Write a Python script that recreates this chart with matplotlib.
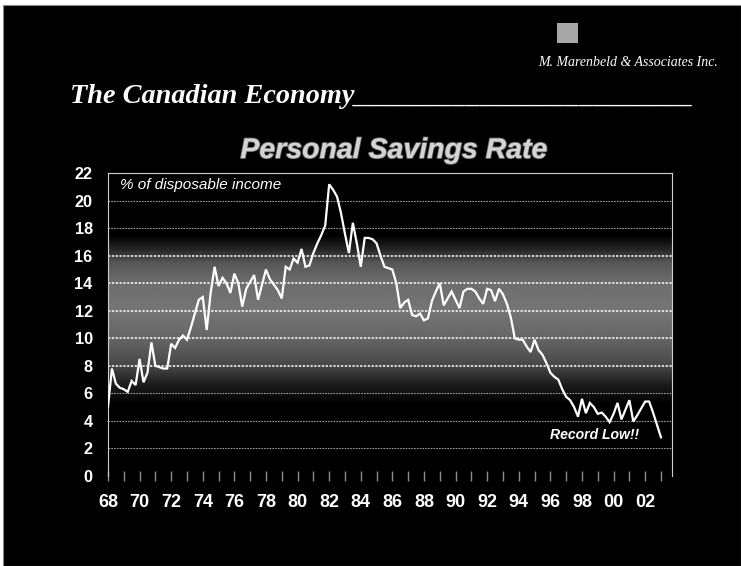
import numpy as np
import matplotlib
matplotlib.use("Agg")
import matplotlib.pyplot as plt
from matplotlib.patches import Rectangle
from matplotlib.ticker import MultipleLocator
import matplotlib.patheffects as pe

# quarterly personal savings rate, % of disposable income, 1968Q1 - 2003Q1
savings_rate = [
    5.0, 7.8, 6.7, 6.4, 6.3, 6.1, 6.9, 6.6,        # 68-69
    8.5, 6.8, 7.5, 9.7, 8.0, 7.9, 7.8, 7.8,        # 70-71
    9.6, 9.3, 9.9, 10.2, 9.9, 10.8, 11.8, 12.8,    # 72-73
    13.0, 10.6, 13.3, 15.2, 13.8, 14.4, 14.0, 13.3,  # 74-75
    14.7, 14.0, 12.3, 13.6, 14.1, 14.6, 12.8, 13.9,  # 76-77
    15.0, 14.3, 13.9, 13.5, 12.9, 15.2, 15.0, 15.8,  # 78-79
    15.5, 16.5, 15.2, 15.3, 16.2, 16.9, 17.5, 18.2,  # 80-81
    21.2, 20.8, 20.3, 19.1, 17.6, 16.2, 18.4, 16.9,  # 82-83
    15.2, 17.3, 17.3, 17.2, 16.9, 16.0, 15.2, 15.1,  # 84-85
    15.0, 14.0, 12.2, 12.6, 12.8, 11.7, 11.6, 11.8,  # 86-87
    11.3, 11.45, 12.7, 13.4, 14.0, 12.4, 12.9, 13.4,  # 88-89
    12.8, 12.2, 13.4, 13.6, 13.6, 13.4, 12.9, 12.5,  # 90-91
    13.6, 13.5, 12.7, 13.6, 13.2, 12.5, 11.5, 10.0,  # 92-93
    9.9, 9.9, 9.4, 9.0, 9.9, 9.15, 8.8, 8.2,        # 94-95
    7.5, 7.2, 7.0, 6.3, 5.75, 5.5, 5.0, 4.3,        # 96-97
    5.6, 4.55, 5.3, 5.0, 4.5, 4.6, 4.3, 3.9,        # 98-99
    4.5, 5.3, 4.1, 4.8, 5.5, 3.95, 4.4, 4.9,        # 00-01
    5.4, 5.4, 4.6, 3.7,                             # 02
    2.8,                                            # 03Q1
]
start_year = 1968
label_years = list(range(1968, 2003, 2))
year_labels = ["68", "70", "72", "74", "76", "78", "80", "82", "84",
               "86", "88", "90", "92", "94", "96", "98", "00", "02"]
y_ticks = [0, 2, 4, 6, 8, 10, 12, 14, 16, 18, 20, 22]

quarters = start_year + np.arange(len(savings_rate)) / 4.0

fig = plt.figure(figsize=(7.41, 5.66), dpi=100, facecolor="white")
fig.patches.append(Rectangle((0.004, 0.0), 0.996, 0.991, transform=fig.transFigure,
                             facecolor="black", edgecolor="#888888", lw=0.8, zorder=-10))

ax = fig.add_axes([0.1457, 0.1594, 0.7612, 0.5344])
ax.set_facecolor("black")
x0, x1 = 1968, 2003.7
ax.set_xlim(x0, x1)
ax.set_ylim(0, 22)

# grey shaded band behind the middle of the chart
levels = np.linspace(0, 22, 400)
shade = np.interp(levels, [0, 5.2, 6.5, 8, 10, 12, 14, 15.5, 16.4, 17.5, 22],
                  [0, 0, 0.1, 0.28, 0.4, 0.46, 0.43, 0.34, 0.16, 0.0, 0])
ax.imshow(shade[:, None], extent=[x0, x1, 0, 22], origin="lower", aspect="auto",
          cmap="gray", vmin=0, vmax=1, zorder=0, interpolation="bilinear")

for yv in y_ticks[1:]:
    bright = 8 <= yv <= 16
    ax.axhline(yv, color="white" if bright else "#9a9a9a",
               lw=1.1 if bright else 0.8, ls=(0, (1.5, 1)), zorder=1)

ax.plot(quarters, savings_rate, color="white", lw=1.6, zorder=3,
        solid_joinstyle="miter")

for side in ["left", "top", "right"]:
    ax.spines[side].set_color("#cfcfcf")
    ax.spines[side].set_linestyle((0, (1.5, 1)))
    ax.spines[side].set_linewidth(0.8)
ax.spines["bottom"].set_visible(False)

ax.set_yticks(y_ticks)
ax.set_yticklabels([str(v) for v in y_ticks])
ax.tick_params(axis="y", length=0, pad=11, labelcolor="white", labelsize=11.7)
for lab in ax.get_yticklabels():
    lab.set_fontfamily(["Liberation Sans", "DejaVu Sans"])
    lab.set_fontweight("bold")

ax.set_xticks(label_years)
ax.set_xticklabels(year_labels)
ax.xaxis.set_minor_locator(MultipleLocator(1))
ax.tick_params(axis="x", which="both", direction="inout", length=7, width=1,
               color="#8c8c8c", pad=9.5, labelcolor="white", labelsize=13)
for lab in ax.get_xticklabels():
    lab.set_fontfamily(["Liberation Sans Narrow", "Liberation Sans", "DejaVu Sans"])
    lab.set_fontweight("bold")

ax.text(1968.75, 21.15, "% of disposable income", color="white", fontsize=11,
        fontstyle="italic", va="center", ha="left", family=["Liberation Sans", "DejaVu Sans"])
ax.text(1998.82, 2.97, "Record Low!!", color="white", fontsize=10.1,
        fontstyle="italic", fontweight="bold", va="center", ha="center",
        family=["Liberation Sans", "DejaVu Sans"])

# headings
fig.text(0.5317, 0.7208, "Personal Savings Rate", color="#d4d4d4", fontsize=20.5,
         fontstyle="italic", fontweight="bold", ha="center", va="baseline",
         family=["Liberation Sans", "DejaVu Sans"],
         path_effects=[pe.withStroke(linewidth=1.2, foreground="#6a6a6a")])
fig.text(0.0945, 0.818, "The Canadian Economy________________________", color="white",
         fontsize=20.3, fontstyle="italic", fontweight="bold", ha="left", va="baseline",
         family=["Liberation Serif", "DejaVu Serif"])
fig.text(0.848, 0.890, "M. Marenbeld & Associates Inc.", color="white", fontsize=10,
         fontstyle="italic", ha="center", va="center",
         family=["Liberation Serif", "DejaVu Serif"])
fig.patches.append(Rectangle((0.7517, 0.924), 0.0283, 0.0353, transform=fig.transFigure,
                             facecolor="#a8a8a8", edgecolor="none", zorder=1))

fig.savefig("out.png", dpi=100, facecolor=fig.get_facecolor())
